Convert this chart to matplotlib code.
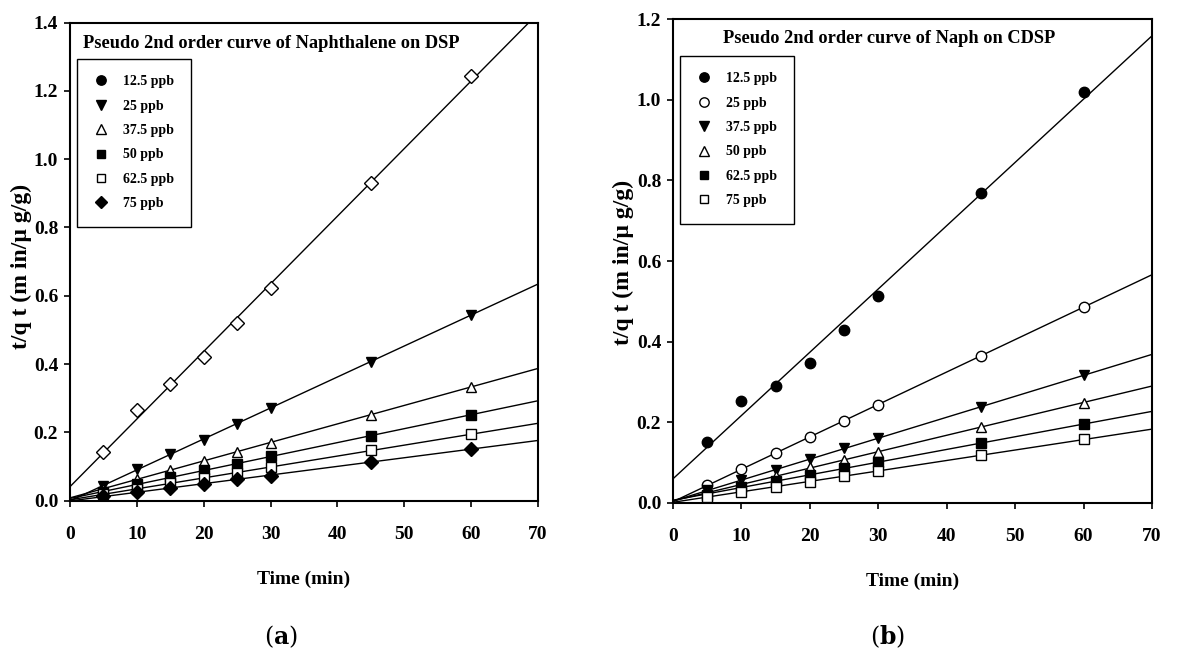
import numpy as np
import matplotlib.pyplot as plt
from matplotlib.lines import Line2D

plt.rcParams['font.family'] = 'Liberation Serif'
plt.rcParams['font.weight'] = 'bold'
plt.rcParams['mathtext.fontset'] = 'dejavuserif'

# contact times (min)
time = [5, 10, 15, 20, 25, 30, 45, 60]
labels = ['12.5 ppb', '25 ppb', '37.5 ppb', '50 ppb', '62.5 ppb', '75 ppb']

# t/qt on DSP
dsp_125 = [0.142, 0.264, 0.342, 0.420, 0.521, 0.624, 0.930, 1.243]
dsp_25 = [0.044, 0.093, 0.135, 0.178, 0.225, 0.272, 0.406, 0.545]
dsp_375 = [0.035, 0.064, 0.090, 0.115, 0.142, 0.168, 0.252, 0.334]
dsp_50 = [0.025, 0.047, 0.068, 0.090, 0.108, 0.129, 0.190, 0.251]
dsp_625 = [0.018, 0.035, 0.050, 0.066, 0.082, 0.098, 0.147, 0.194]
dsp_75 = [0.012, 0.025, 0.037, 0.049, 0.062, 0.073, 0.112, 0.152]

# t/qt on CDSP
cdsp_125 = [0.151, 0.252, 0.290, 0.348, 0.429, 0.514, 0.770, 1.020]
cdsp_25 = [0.044, 0.083, 0.124, 0.162, 0.204, 0.242, 0.364, 0.487]
cdsp_375 = [0.031, 0.056, 0.081, 0.108, 0.135, 0.160, 0.237, 0.317]
cdsp_50 = [0.022, 0.045, 0.066, 0.089, 0.106, 0.127, 0.189, 0.247]
cdsp_625 = [0.020, 0.038, 0.055, 0.069, 0.085, 0.102, 0.147, 0.195]
cdsp_75 = [0.015, 0.027, 0.040, 0.052, 0.065, 0.079, 0.118, 0.157]

dsp = [dsp_125, dsp_25, dsp_375, dsp_50, dsp_625, dsp_75]
cdsp = [cdsp_125, cdsp_25, cdsp_375, cdsp_50, cdsp_625, cdsp_75]

# (marker, filled)
dsp_marks = [('D', False), ('v', True), ('^', False), ('s', True), ('s', False), ('D', True)]
dsp_legend_marks = [('o', True)] + dsp_marks[1:]
cdsp_marks = [('o', True), ('o', False), ('v', True), ('^', False), ('s', True), ('s', False)]

MS = {'D': 7, 'o': 7.5, 'v': 7.5, '^': 7.5, 's': 6.5}


def draw_panel(ax, series, marks, legend_marks, title, title_xy, ymax, yticks, ylab_xy):
    xs = np.array(time, dtype=float)
    xline = np.array([0, 70])
    for ys, (m, filled) in zip(series, marks):
        # linear fit of t/qt against t
        k, b = np.polyfit(xs, ys, 1)
        ax.plot(xline, k * xline + b, color='black', lw=1.0, zorder=2)
        ax.plot(xs, ys, ls='none', marker=m, ms=MS[m], mec='black', mew=1.0,
                mfc='black' if filled else 'white', zorder=3)

    handles = [Line2D([], [], ls='none', marker=m, ms=MS[m] * 0.9, mec='black', mew=1.0,
                      mfc='black' if filled else 'white')
               for m, filled in legend_marks]
    leg = ax.legend(handles, labels, loc='upper left', bbox_to_anchor=(0.015, 0.925),
                    prop={'family': 'Liberation Serif', 'weight': 'bold', 'size': 10},
                    frameon=True, fancybox=False, edgecolor='black', framealpha=1,
                    handlelength=1.0, handletextpad=1.1, labelspacing=0.82,
                    borderpad=1.2, borderaxespad=0)
    leg.get_frame().set_linewidth(1.0)

    ax.text(title_xy[0], title_xy[1], title, transform=ax.transAxes, ha='left',
            va='center', fontsize=13.2, fontweight='bold')

    ax.set_xlim(0, 70)
    ax.set_ylim(0, ymax)
    ax.set_xticks(range(0, 71, 10))
    ax.set_yticks(yticks)
    ax.set_yticklabels(['%.1f' % v for v in yticks])
    ax.tick_params(direction='out', length=4.5, width=1.2, labelsize=14, top=False, right=False)
    ax.tick_params(axis='x', pad=14)
    ax.tick_params(axis='y', pad=4)
    for sp in ax.spines.values():
        sp.set_linewidth(1.5)
    ax.set_xlabel('Time (min)', fontsize=14, fontweight='bold', labelpad=20)
    ax.set_ylabel('t/q t (m in/\u00b5 g/g)', fontsize=17, fontweight='bold')
    ax.yaxis.set_label_coords(*ylab_xy)


fig = plt.figure(figsize=(11.77, 6.53), dpi=100)
ax1 = fig.add_axes([0.0595, 0.2335, 0.3976, 0.7317])
ax2 = fig.add_axes([0.5718, 0.2302, 0.4070, 0.7402])

draw_panel(ax1, dsp, dsp_marks, dsp_legend_marks,
           'Pseudo 2nd order curve of Naphthalene on DSP', (0.028, 0.9575),
           1.4, np.arange(0, 1.41, 0.2), (-0.081, 0.489))
draw_panel(ax2, cdsp, cdsp_marks, cdsp_marks,
           'Pseudo 2nd order curve of Naph on CDSP', (0.104, 0.961),
           1.2, np.arange(0, 1.21, 0.2), (-0.081, 0.498))

fig.text(281 / 1177, 1 - 637 / 653, r'($\mathbf{a}$)', ha='center', va='center',
         fontsize=17, family='DejaVu Serif', fontweight='normal')
fig.text(888 / 1177, 1 - 637 / 653, r'($\mathbf{b}$)', ha='center', va='center',
         fontsize=17, family='DejaVu Serif', fontweight='normal')

fig.savefig('out.png', dpi=100)
